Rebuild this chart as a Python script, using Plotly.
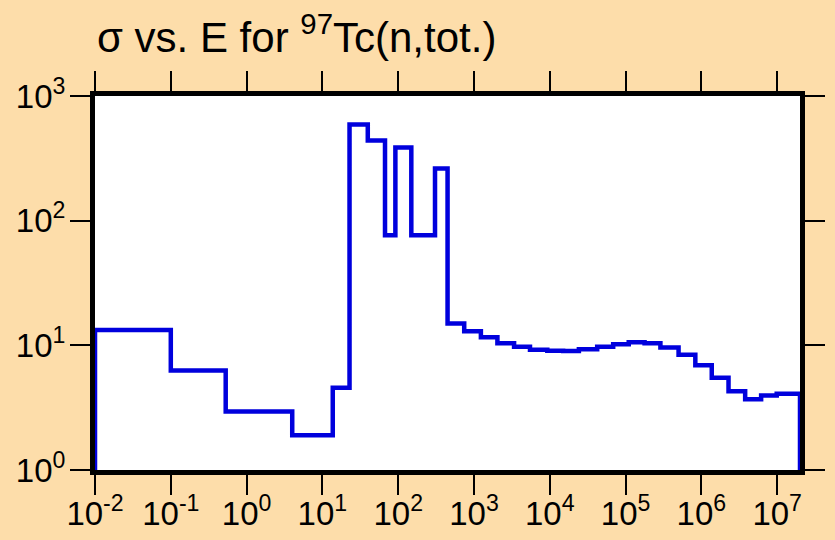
import plotly.graph_objects as go

# Bin edges (eV) and cross-section values (barns)
energy_edges = [0.01, 0.1, 0.53, 4.0, 13.7, 22.8, 39.7, 67, 91.8, 149, 306, 448, 743,
                1233, 2037, 3380, 5480, 9270, 15000, 24200, 42200, 68600, 110000,
                178000, 288000, 500000, 832000, 1.37e6, 2.28e6, 3.78e6, 6.14e6,
                9.86e6, 2.0e7]
sigma_values = [13.3, 6.28, 2.94, 1.90, 4.56, 590, 440, 76.4, 386, 76.4, 262, 15.0,
                13.0, 11.6, 10.4, 9.73, 9.2, 9.03, 9.0, 9.3, 9.73, 10.2, 10.6, 10.4,
                9.6, 8.39, 6.92, 5.49, 4.28, 3.70, 3.96, 4.08]
baseline = 1.0

x_tickvals = [1e-2, 1e-1, 1e0, 1e1, 1e2, 1e3, 1e4, 1e5, 1e6, 1e7]
x_ticktext = ["10<sup>-2</sup>", "10<sup>-1</sup>", "10<sup>0</sup>", "10<sup>1</sup>",
              "10<sup>2</sup>", "10<sup>3</sup>", "10<sup>4</sup>", "10<sup>5</sup>",
              "10<sup>6</sup>", "10<sup>7</sup>"]
y_tickvals = [1, 10, 100, 1000]
y_ticktext = ["10<sup>0</sup>", "10<sup>1</sup>", "10<sup>2</sup>", "10<sup>3</sup>"]

title_text = "σ vs. E for <sup>97</sup>Tc(n,tot.)"

xs = [energy_edges[0]] + energy_edges + [energy_edges[-1]]
ys = [baseline] + sigma_values + [sigma_values[-1], baseline]

BG = "#FDDDAA"
FONT = "Liberation Sans, Arial, sans-serif"

fig = go.Figure()
fig.add_trace(go.Scatter(x=xs, y=ys, mode="lines", line=dict(shape="hv", color="#0000DD", width=4.5),
                         showlegend=False, hoverinfo="skip"))

axis_common = dict(showline=True, linewidth=5, linecolor="black", mirror="allticks",
                   ticks="outside", ticklen=20, tickwidth=2, tickcolor="black",
                   showgrid=False, zeroline=False, automargin=False,
                   tickfont=dict(family=FONT, size=33, color="black"))

fig.update_xaxes(type="log", range=[-2, 7.301], tickvals=x_tickvals, ticktext=x_ticktext,
                 ticklabelstandoff=-10, **axis_common)
fig.update_yaxes(type="log", range=[0, 3], tickvals=y_tickvals, ticktext=y_ticktext,
                 ticklabelstandoff=-2, **axis_common)

fig.add_annotation(text=title_text, xref="paper", yref="paper", x=0.0, y=1.167,
                   xanchor="left", yanchor="middle", showarrow=False,
                   font=dict(family=FONT, size=42, color="black"))

fig.update_layout(width=835, height=540, paper_bgcolor=BG, plot_bgcolor="white",
                  margin=dict(l=95, r=35, t=96, b=70),
                  font=dict(family=FONT, color="black"))

fig.write_html("out.html", config={"displayModeBar": False},
               post_script="document.body.style.margin='0';document.body.style.overflow='hidden';")
